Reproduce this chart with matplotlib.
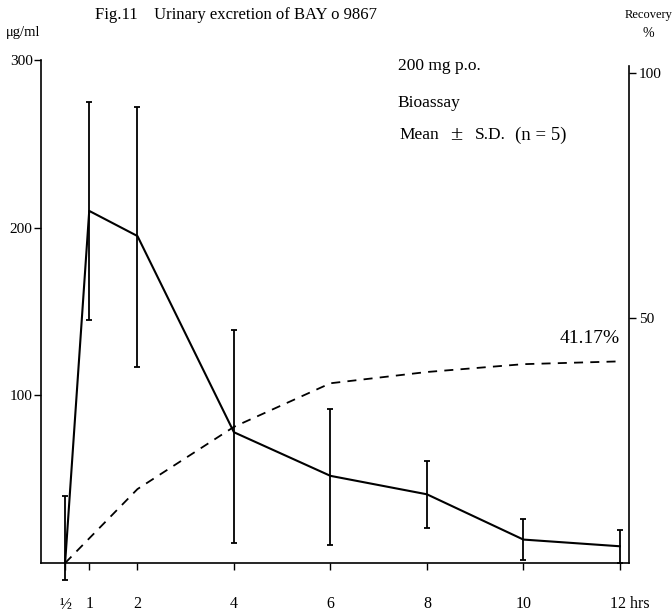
import matplotlib
matplotlib.use("Agg")
import matplotlib.pyplot as plt
from matplotlib import transforms

plt.rcParams['font.family'] = ['Liberation Serif', 'DejaVu Serif']

# sampling times (hrs) and urine concentration, mean and S.D. (ug/ml)
hours = [0.5, 1, 2, 4, 6, 8, 10, 12]
conc_mean = [0, 210, 195, 78, 52, 41, 14, 10]
sd_low = [10, 65, 78, 66, 41, 20, 12, 10]
sd_high = [40, 65, 77, 61, 40, 20, 12, 10]

# cumulative recovery (%)
rec_hours = [0.5, 2, 4, 6, 8, 10, 12]
recovery = [0, 15.1, 27.8, 36.7, 39.0, 40.6, 41.17]

tick_pos = [0.5, 1, 2, 4, 6, 8, 10, 12]
tick_lbl = ['½', '1', '2', '4', '6', '8', '10', '12 hrs']

fig = plt.figure(figsize=(6.72, 6.12), dpi=100)
ax = fig.add_axes([0.061, 0.080, 0.875, 0.822])

ax.errorbar(hours, conc_mean, yerr=[sd_low, sd_high], color='black',
            lw=1.5, elinewidth=1.3, capsize=2.5, capthick=1.3, clip_on=False, zorder=3)
ax.set_xlim(0, 12.19)
ax.set_ylim(0, 300)
ax.set_xticks(tick_pos)
ax.set_xticklabels(tick_lbl, fontsize=11.5)
ax.set_yticks([100, 200, 300])
ax.set_yticklabels(['100', '200', '300'], fontsize=11)
ax.tick_params(axis='x', direction='out', length=5, width=1, pad=19)
ax.tick_params(axis='y', direction='out', length=5, width=1, pad=1)
ax.spines['top'].set_visible(False)
ax.spines['right'].set_visible(False)
for s in ['left', 'bottom']:
    ax.spines[s].set_linewidth(1.2)

# push the "12 hrs" label right so the number sits under its tick
last = ax.get_xticklabels()[-1]
last.set_transform(last.get_transform() +
                   transforms.ScaledTranslation(0.10, 0, fig.dpi_scale_trans))

ax2 = ax.twinx()
ax2.plot(rec_hours, recovery, color='black', lw=1.3, ls=(0, (5, 4)))
ax2.set_ylim(0, 102.7)
ax2.set_yticks([50, 100])
ax2.set_yticklabels(['50', '100'], fontsize=11)
ax2.tick_params(axis='y', direction='out', length=5, width=1, pad=2)
ax2.spines['top'].set_visible(False)
ax2.spines['left'].set_visible(False)
ax2.spines['bottom'].set_visible(False)
ax2.spines['right'].set_bounds(0, 101.5)
ax2.spines['right'].set_linewidth(1.2)
ax2.text(12, recovery[-1] + 3, '41.17%', ha='right', va='bottom', fontsize=14)

fig.text(0.141, 0.975, 'Fig.11    Urinary excretion of BAY o 9867', fontsize=12,
         ha='left', va='center')
fig.text(0.008, 0.947, 'μg/ml', fontsize=10.5, ha='left', va='center')
fig.text(0.965, 0.975, 'Recovery', fontsize=9, ha='center', va='center')
fig.text(0.965, 0.946, '%', fontsize=10, ha='center', va='center')

fig.text(0.592, 0.892, '200 mg p.o.', fontsize=12.5, ha='left', va='center')
fig.text(0.592, 0.832, 'Bioassay', fontsize=12.5, ha='left', va='center')
# condition line set word by word to keep the wide spacing
y_cond = 0.779
fig.text(0.595, y_cond, 'Mean', fontsize=12.5, ha='left', va='center')
fig.text(0.670, y_cond, '±', fontsize=16, ha='left', va='center')
fig.text(0.707, y_cond, 'S.D.', fontsize=12.5, ha='left', va='center')
fig.text(0.766, y_cond, '(n = 5)', fontsize=13.5, ha='left', va='center')

fig.savefig('out.png', dpi=100)
